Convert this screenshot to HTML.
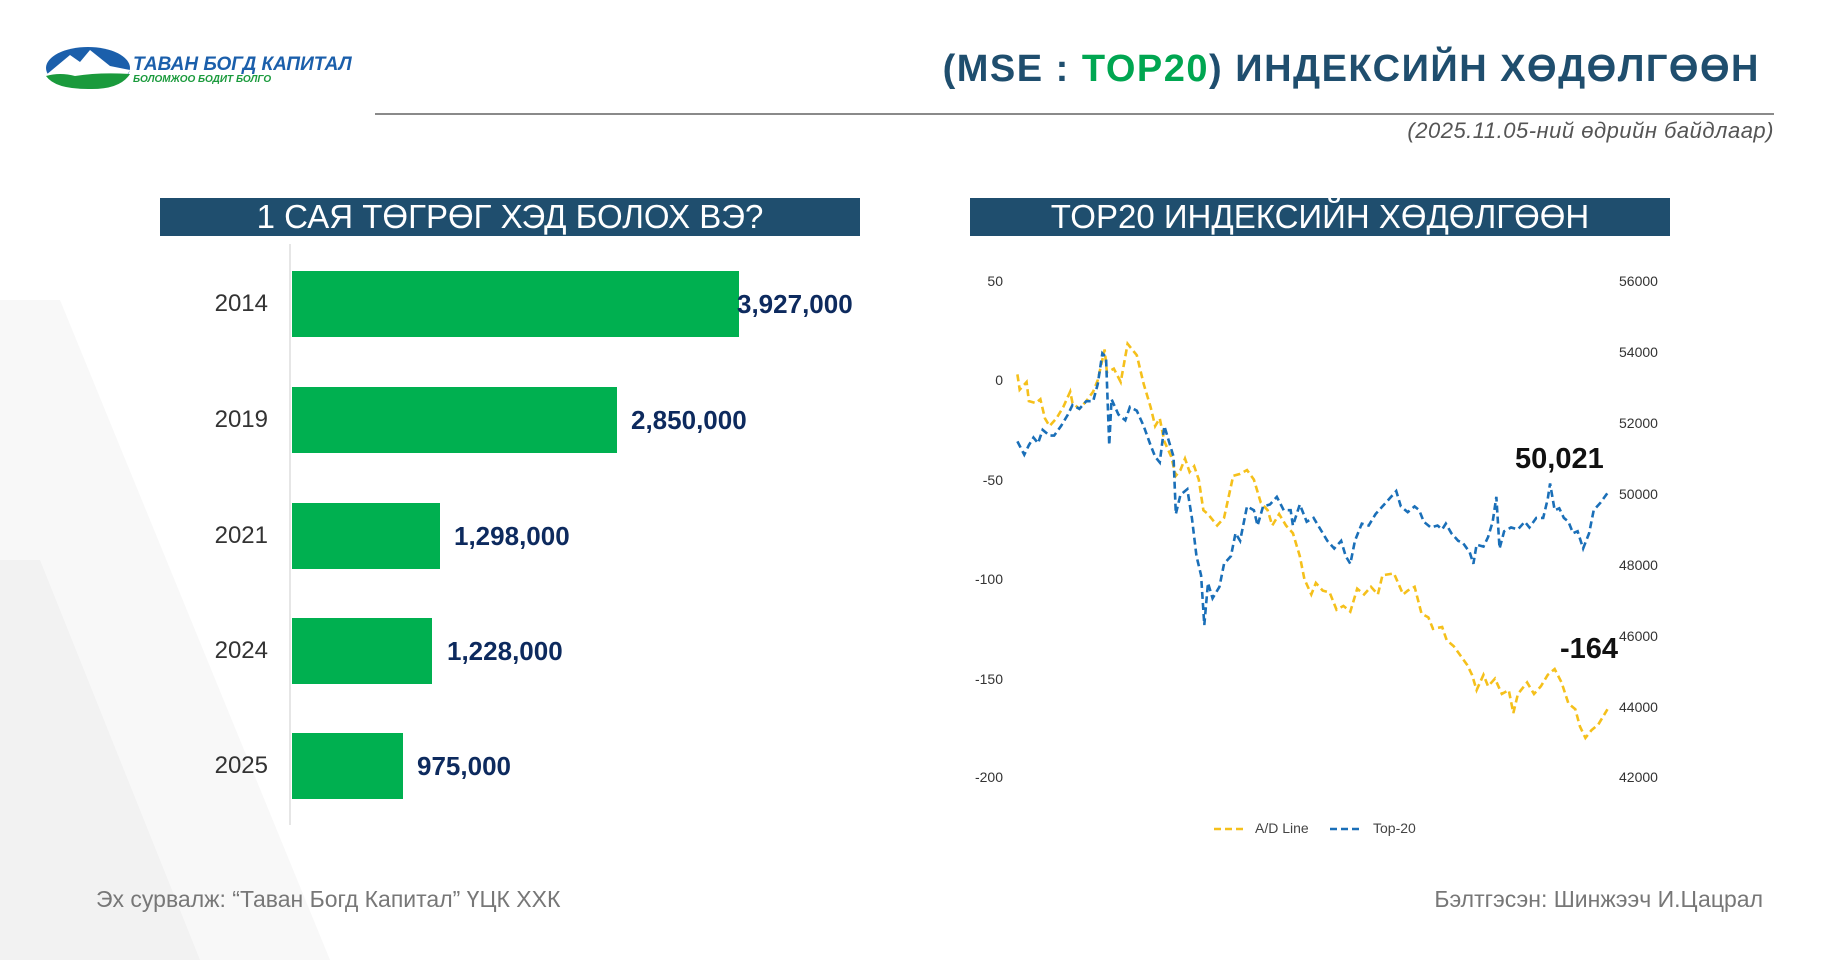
<!DOCTYPE html>
<html><head><meta charset="utf-8"><style>
body{margin:0;width:1822px;height:960px;background:#fff;position:relative;overflow:hidden;font-family:"Liberation Sans","DejaVu Sans",sans-serif}
.a{position:absolute;white-space:nowrap}
.bar{position:absolute;left:292px;background:#00b050;height:66px}
.yr{position:absolute;right:1554px;font-size:24px;color:#333}
.val{position:absolute;font-size:26px;font-weight:bold;color:#0d2a5e}
.hdr{position:absolute;top:198px;height:38px;width:700px;background:#1f4e6e;color:#fff;font-size:33px;text-align:center;line-height:38px}
.la{position:absolute;font-size:14px;color:#333;width:40px;text-align:right}
.ra{position:absolute;font-size:14px;color:#333;left:1619px}
</style></head><body>
<svg class="a" style="left:0;top:0" width="1822" height="960">
<polygon points="0,300 60,300 330,960 0,960" fill="#f8f8f8"/>
<polygon points="0,560 40,560 200,960 0,960" fill="#f2f2f2"/>
<ellipse cx="88" cy="68" rx="42" ry="21" fill="#1b5fab"/>
<path d="M46,75 L70,55 L80,62 L90,50 L110,66 L130,70 Q120,90 88,89 Q55,89 46,75Z" fill="#fff"/>
<path d="M46,76 Q60,72 75,76 Q100,72 130,74 Q120,90 88,89 Q55,89 46,76Z" fill="#1a9a3c"/>
<text x="133" y="70" font-size="19" font-weight="bold" font-style="italic" fill="#1b5fab" font-family="Liberation Sans">ТАВАН БОГД КАПИТАЛ</text>
<text x="133" y="82" font-size="10" font-weight="bold" font-style="italic" fill="#1a9a3c" font-family="Liberation Sans">БОЛОМЖОО БОДИТ БОЛГО</text>
<line x1="375" y1="114" x2="1774" y2="114" stroke="#8a8a8a" stroke-width="2"/>
<line x1="290" y1="244" x2="290" y2="825" stroke="#ddd" stroke-width="1.5"/>
<g transform="translate(960,250) scale(0.4592,0.3827)" fill="none" stroke-width="2.6" stroke-dasharray="7 4">
<polyline vector-effect="non-scaling-stroke" stroke="#f5c01b" points="125,325 130,365 145,345 150,395 165,400 175,390 185,440 195,460 210,440 225,410 240,370 245,400 260,415 275,395 290,370 300,340 315,260 320,320 335,310 350,345 365,245 385,275 400,350 415,410 425,460 435,440 445,500 460,540 470,590 480,575 490,545 500,580 510,565 520,600 530,680 540,690 560,720 575,700 595,590 610,585 625,575 640,600 655,660 670,680 680,720 695,690 710,720 725,740 740,800 750,860 765,900 775,870 790,890 805,895 820,940 835,930 850,945 865,885 880,900 895,880 910,900 920,850 945,845 965,900 975,890 990,880 1005,950 1020,960 1030,990 1050,985 1060,1020 1075,1035 1090,1060 1105,1085 1115,1110 1125,1150 1140,1110 1150,1140 1165,1120 1180,1160 1195,1150 1205,1210 1215,1160 1235,1130 1250,1160 1265,1140 1280,1110 1295,1095 1310,1130 1325,1185 1340,1200 1350,1245 1362,1275 1375,1255 1390,1240 1410,1200"/>
<polyline vector-effect="non-scaling-stroke" stroke="#1a6fb8" points="125,500 140,535 150,510 160,490 170,505 180,470 195,485 205,485 220,460 235,430 245,405 260,415 275,395 290,395 300,350 310,270 318,280 325,510 330,390 345,430 360,445 370,410 385,420 400,460 415,510 425,540 435,555 445,460 455,500 465,540 470,690 480,640 495,625 505,700 515,800 525,850 532,980 540,870 550,910 565,880 575,820 590,800 600,740 610,760 625,670 640,680 648,720 660,670 675,665 690,645 705,680 720,680 725,720 740,665 755,710 770,700 785,730 800,760 815,780 830,760 840,800 850,820 860,760 875,715 890,720 905,690 920,670 935,650 950,630 960,670 975,685 990,670 1000,680 1010,710 1025,725 1040,720 1050,730 1058,715 1070,740 1085,760 1095,765 1110,790 1118,820 1125,770 1140,775 1150,750 1160,710 1168,645 1175,780 1185,735 1200,725 1215,730 1230,710 1240,725 1255,700 1270,700 1280,650 1285,610 1295,680 1305,675 1315,700 1325,710 1335,740 1345,735 1357,780 1370,740 1380,680 1395,660 1410,635"/>
</g>
<line x1="1214" y1="829" x2="1244" y2="829" stroke="#f5c01b" stroke-width="2.6" stroke-dasharray="7 4"/>
<line x1="1330" y1="829" x2="1360" y2="829" stroke="#1a6fb8" stroke-width="2.6" stroke-dasharray="7 4"/>
</svg>
<div class="a" style="right:62px;top:48px;font-size:38px;font-weight:bold;color:#1f4e6e;letter-spacing:1.5px">(MSE : <span style="color:#00a651">TOP20</span>) ИНДЕКСИЙН ХӨДӨЛГӨӨН</div>
<div class="a" style="right:48px;top:118px;font-size:22px;font-style:italic;color:#555;letter-spacing:0.5px">(2025.11.05-ний өдрийн байдлаар)</div>
<div class="hdr" style="left:160px">1 САЯ ТӨГРӨГ ХЭД БОЛОХ ВЭ?</div>
<div class="hdr" style="left:970px">TOP20 ИНДЕКСИЙН ХӨДӨЛГӨӨН</div>
<div class="bar" style="top:271px;width:447px"></div>
<div class="bar" style="top:387px;width:325px"></div>
<div class="bar" style="top:503px;width:148px"></div>
<div class="bar" style="top:618px;width:140px"></div>
<div class="bar" style="top:733px;width:111px"></div>
<div class="yr" style="top:290px">2014</div>
<div class="yr" style="top:406px">2019</div>
<div class="yr" style="top:522px">2021</div>
<div class="yr" style="top:637px">2024</div>
<div class="yr" style="top:752px">2025</div>
<div class="val" style="left:737px;top:289px">3,927,000</div>
<div class="val" style="left:631px;top:405px">2,850,000</div>
<div class="val" style="left:454px;top:521px">1,298,000</div>
<div class="val" style="left:447px;top:636px">1,228,000</div>
<div class="val" style="left:417px;top:751px">975,000</div>
<div class="la" style="left:963px;top:273px">50</div>
<div class="la" style="left:963px;top:372px">0</div>
<div class="la" style="left:963px;top:472px">-50</div>
<div class="la" style="left:963px;top:571px">-100</div>
<div class="la" style="left:963px;top:671px">-150</div>
<div class="la" style="left:963px;top:769px">-200</div>
<div class="ra" style="top:273px">56000</div>
<div class="ra" style="top:344px">54000</div>
<div class="ra" style="top:415px">52000</div>
<div class="ra" style="top:486px">50000</div>
<div class="ra" style="top:557px">48000</div>
<div class="ra" style="top:628px">46000</div>
<div class="ra" style="top:699px">44000</div>
<div class="ra" style="top:769px">42000</div>
<div class="a" style="left:1515px;top:443px;font-size:29px;font-weight:bold;color:#111">50,021</div>
<div class="a" style="left:1560px;top:633px;font-size:29px;font-weight:bold;color:#111">-164</div>
<div class="a" style="left:1255px;top:820px;font-size:14px;color:#444">A/D Line</div>
<div class="a" style="left:1373px;top:820px;font-size:14px;color:#444">Top-20</div>
<div class="a" style="left:96px;top:886px;font-size:23px;color:#777">Эх сурвалж: “Таван Богд Капитал” ҮЦК ХХК</div>
<div class="a" style="right:59px;top:886px;font-size:23px;color:#777">Бэлтгэсэн: Шинжээч И.Цацрал</div>
</body></html>
